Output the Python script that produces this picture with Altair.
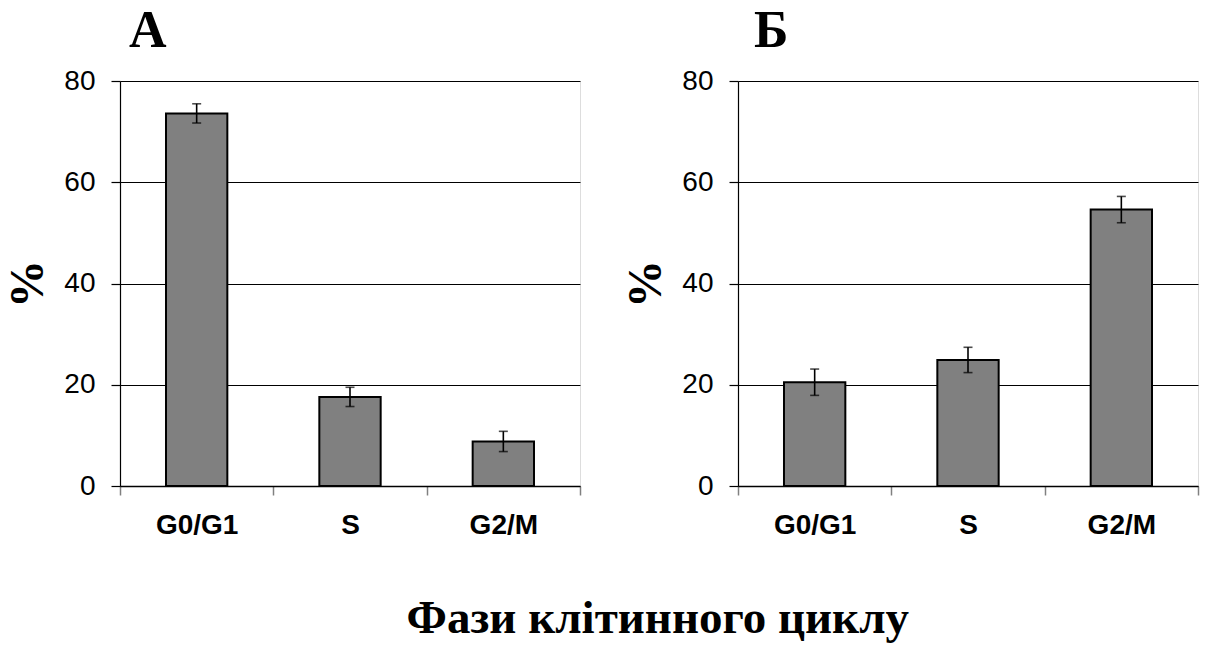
import altair as alt
import pandas as pd

# Cell-cycle phase distribution, two samples (А and Б)
phases = ["G0/G1", "S", "G2/M"]
a_mean = [73.6, 17.6, 8.8]
a_err = [1.9, 1.9, 2.0]
b_mean = [20.5, 24.9, 54.6]
b_err = [2.6, 2.5, 2.6]
y_ticks = [0, 20, 40, 60, 80]

SANS = "Liberation Sans Narrow, Arial Narrow, Liberation Sans, Arial"
SERIF = "Liberation Serif, Times New Roman, serif"


def panel(letter, mean, err, letter_dx):
    df = pd.DataFrame({
        "phase": phases,
        "value": mean,
        "lo": [m - e for m, e in zip(mean, err)],
        "hi": [m + e for m, e in zip(mean, err)],
    })
    x = alt.X(
        "phase:N",
        sort=phases,
        scale=alt.Scale(paddingInner=0, paddingOuter=0),
        axis=alt.Axis(
            title=None,
            labelAngle=0,
            labelFont=SANS,
            labelFontSize=28,
            labelFontWeight="bold",
            labelColor="black",
            labelPadding=16,
            tickBand="extent",
            tickSize=9,
            tickColor="#808080",
            tickWidth=1.5,
            domainColor="black",
            domainWidth=1.5,
            grid=False,
        ),
    )
    y = alt.Y(
        "value:Q",
        scale=alt.Scale(domain=[0, 80], nice=False),
        axis=alt.Axis(
            title="%",
            titleFont=SERIF,
            titleFontSize=48,
            titleFontWeight="bold",
            titleColor="black",
            titlePadding=11,
            values=y_ticks,
            labelFont=SANS,
            labelFontSize=28,
            labelColor="black",
            labelPadding=16,
            tickSize=9,
            tickColor="black",
            tickWidth=1.2,
            domainColor="black",
            domainWidth=1.2,
            grid=True,
            gridColor="black",
            gridWidth=1.2,
        ),
    )
    x_plain = alt.X("phase:N", sort=phases)
    bars = alt.Chart(df).mark_bar(
        color="#808080", stroke="black", strokeWidth=2,
        width=alt.RelativeBandSize(0.4),
    ).encode(x=x, y=y)
    stems = alt.Chart(df).mark_rule(color="black", strokeWidth=1.6).encode(
        x=x_plain, y="lo:Q", y2="hi:Q"
    )
    caps_hi = alt.Chart(df).mark_tick(color="black", thickness=1.6, size=9).encode(
        x=x_plain, y="hi:Q"
    )
    caps_lo = alt.Chart(df).mark_tick(color="black", thickness=1.6, size=9).encode(
        x=x_plain, y="lo:Q"
    )
    return alt.layer(bars, stems, caps_hi, caps_lo).properties(
        width=460,
        height=405,
        title=alt.TitleParams(
            letter,
            font=SERIF,
            fontSize=52,
            fontWeight="bold",
            color="black",
            anchor="start",
            frame="group",
            dx=letter_dx,
            offset=9,
        ),
    )


chart = alt.hconcat(
    panel("А", a_mean, a_err, 9),
    panel("Б", b_mean, b_err, 16),
    spacing=158,
    bounds="flush",
).properties(
    title=alt.TitleParams(
        "Фази клітинного циклу",
        orient="bottom",
        anchor="middle",
        font=SERIF,
        fontSize=47,
        fontWeight="bold",
        color="black",
        offset=56,
        dx=56,
    ),
    padding={"left": 4, "top": 4, "right": 10, "bottom": 2},
).configure_view(
    stroke="#808080", strokeWidth=1.5
).configure(background="white")

chart.save("out.html", embed_options={"renderer": "svg", "actions": False})
